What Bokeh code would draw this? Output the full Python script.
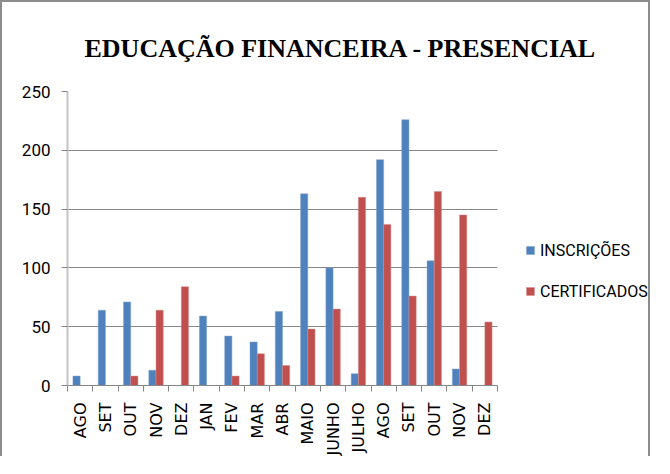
import math
from bokeh.plotting import figure
from bokeh.models import FixedTicker, Range1d, Legend, Title
from bokeh.embed import file_html
from bokeh.resources import INLINE

months = ["AGO", "SET", "OUT", "NOV", "DEZ", "JAN", "FEV", "MAR", "ABR",
          "MAIO", "JUNHO", "JULHO", "AGO", "SET", "OUT", "NOV", "DEZ"]
inscricoes = [8, 64, 71, 13, 0, 59, 42, 37, 63, 163, 100, 10, 192, 226, 106, 14, 0]
certificados = [0, 0, 8, 64, 84, 0, 8, 27, 17, 48, 65, 160, 137, 76, 165, 145, 54]
y_ticks = [0, 50, 100, 150, 200, 250]

n = len(months)
centers = [i + 0.5 for i in range(n)]
bw = 0.285
x_blue = [c - bw / 2 for c in centers]
x_red = [c + bw / 2 for c in centers]

# layout: the bar area is 430px wide; the frame also hosts the legend on the right
W, H = 650, 456
left_b, right_b, top_b, bottom_b = 65, 1, 88, 71
frame_w = W - left_b - right_b
x_end = n * frame_w / 430.0

p = figure(width=W, height=H, output_backend="svg", toolbar_location=None,
           x_range=Range1d(0, x_end), y_range=Range1d(0, 250),
           min_border_left=left_b, min_border_right=right_b,
           min_border_top=top_b, min_border_bottom=bottom_b)
p.outline_line_color = None
p.styles = {"border-left": "2px solid #8c8c8c", "border-top": "2px solid #8c8c8c",
            "border-right": "2px solid #8c8c8c"}

r1 = p.vbar(x=x_blue, top=inscricoes, width=bw, fill_color="#4F81BD",
            line_color="#7fa3d1", line_width=0.5)
r2 = p.vbar(x=x_red, top=certificados, width=bw, fill_color="#C0504D",
            line_color="#d48a88", line_width=0.5)

# x axis
xa = p.xaxis[0]
xa.bounds = (0, n)
xa.ticker = FixedTicker(ticks=centers, minor_ticks=list(range(n + 1)))
xa.major_label_overrides = {c: m for c, m in zip(centers, months)}
xa.major_label_orientation = math.pi / 2
xa.major_tick_line_color = None
xa.minor_tick_in = 0
xa.minor_tick_out = 6
xa.minor_tick_line_color = "#868686"
xa.axis_line_color = "#868686"
xa.major_label_text_font = "DejaVu Sans"
xa.major_label_text_font_size = "16px"
xa.major_label_text_color = "#000000"
xa.major_label_standoff = 11

# y axis
ya = p.yaxis[0]
ya.ticker = FixedTicker(ticks=y_ticks)
ya.minor_tick_line_color = None
ya.major_tick_in = 0
ya.major_tick_out = 6
ya.major_tick_line_color = "#868686"
ya.axis_line_color = "#c4c4c4"
ya.axis_line_width = 2
ya.major_label_text_font = "Roboto"
ya.major_label_text_font_size = "17px"
ya.major_label_text_color = "#000000"
ya.major_label_standoff = 11

p.xgrid.grid_line_color = None
p.ygrid.ticker = FixedTicker(ticks=y_ticks)
p.ygrid.grid_line_color = "#868686"
p.ygrid.grid_line_width = 1
try:
    p.ygrid.cross_bounds = (0, n)
except Exception:
    pass

title = Title(text="EDUCAÇÃO FINANCEIRA - PRESENCIAL", align="left", offset=17,
              text_font="Liberation Serif", text_font_style="bold",
              text_font_size="26px", text_color="#000000", standoff=58)
p.title = title

legend = Legend(items=[("INSCRIÇÕES", [r1]), ("CERTIFICADOS", [r2])],
                location=(458, 84), orientation="vertical",
                border_line_color=None, background_fill_alpha=0,
                label_text_font="Roboto",
                label_text_font_size="16px", label_text_color="#000000",
                glyph_width=10, glyph_height=10, label_standoff=5,
                label_height=20, spacing=21, padding=0, margin=0)
p.add_layout(legend, "center")

open("out.html", "w").write(file_html(p, INLINE))
